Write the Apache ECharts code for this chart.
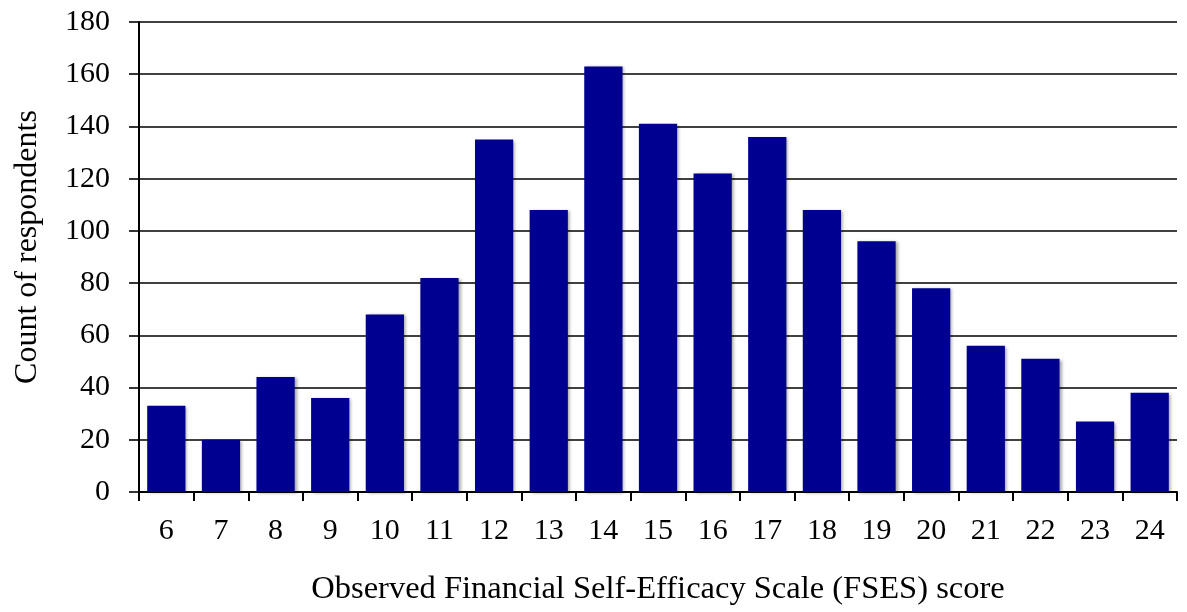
<!DOCTYPE html>
<html>
<head>
    <meta charset="UTF-8">
    <title>FSES score distribution</title>
    <script src="https://cdn.jsdelivr.net/npm/echarts@6/dist/echarts.min.js"></script>
    <style>
        html, body { margin: 0; padding: 0; background: #fff; }
        #chart { width: 1187px; height: 612px; }
    </style>
</head>
<body>
<div id="chart"></div>
<script>
    // scores on the x axis and how many respondents got each one
    var scores = ['6', '7', '8', '9', '10', '11', '12', '13', '14', '15', '16', '17', '18', '19', '20', '21', '22', '23', '24'];
    var counts = [33, 20, 44, 36, 68, 82, 135, 108, 163, 141, 122, 136, 108, 96, 78, 56, 51, 27, 38];

    var font = 'Liberation Serif, Times New Roman, serif';

    var myChart = echarts.init(document.getElementById('chart'));
    myChart.setOption({
        animation: false,
        grid: {
            left: 139,
            right: 10,
            top: 22,
            bottom: 120
        },
        xAxis: {
            type: 'category',
            data: scores,
            name: 'Observed Financial Self-Efficacy Scale (FSES) score',
            nameLocation: 'middle',
            nameGap: 81,
            nameTextStyle: { fontFamily: font, fontSize: 32.5, color: '#000' },
            axisLine: { lineStyle: { color: '#000', width: 2 } },
            axisTick: { show: true, length: 9, lineStyle: { color: '#000', width: 2 } },
            axisLabel: { fontFamily: font, fontSize: 30, color: '#000', margin: 24 }
        },
        yAxis: {
            type: 'value',
            min: 0,
            max: 180,
            interval: 20,
            name: 'Count of respondents',
            nameLocation: 'middle',
            nameGap: 95,
            // left padding nudges the rotated title upwards a little
            nameTextStyle: { fontFamily: font, fontSize: 32, color: '#000', padding: [0, 0, 0, 20] },
            axisLine: { show: true, lineStyle: { color: '#000', width: 2 } },
            axisTick: { show: true, length: 10, lineStyle: { color: '#000', width: 1.6 } },
            axisLabel: { fontFamily: font, fontSize: 30, color: '#000', margin: 29 },
            splitLine: { show: true, lineStyle: { color: '#000', width: 1.6 } }
        },
        series: [
            {
                name: 'Count',
                type: 'bar',
                data: counts,
                barCategoryGap: '30%',
                itemStyle: {
                    color: '#000090',
                    shadowColor: 'rgba(0,0,0,0.35)',
                    shadowBlur: 3,
                    shadowOffsetX: 2,
                    shadowOffsetY: 1
                }
            }
        ]
    });
</script>
</body>
</html>
